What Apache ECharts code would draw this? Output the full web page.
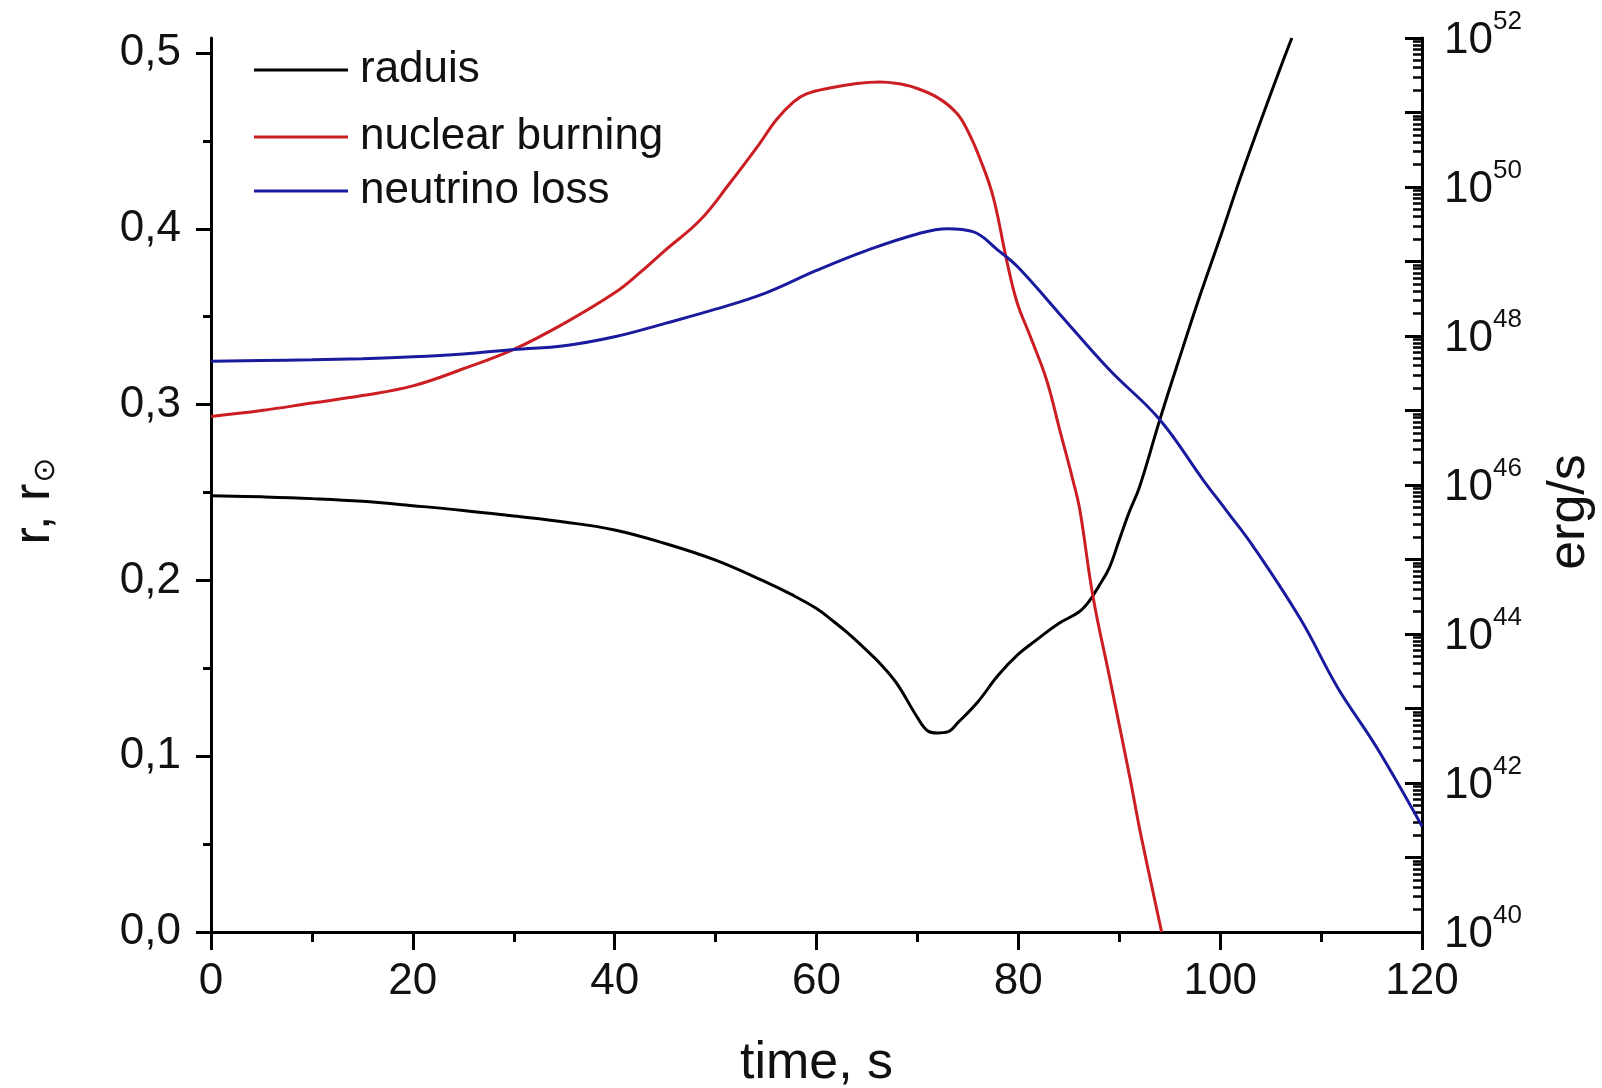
<!DOCTYPE html>
<html>
<head>
<meta charset="utf-8">
<script src="https://cdn.jsdelivr.net/npm/echarts@6/dist/echarts.min.js"></script>
<style>
  html, body { margin: 0; padding: 0; background: #fff; }
  #chart { width: 1602px; height: 1088px; }
</style>
</head>
<body>
<div id="chart"></div>
<script>
// Stellar core radius, in solar radii (left axis)
const radiusTime = [0, 5, 10, 15, 20, 25, 30, 35, 40, 45, 50, 55, 57.5, 60, 61.5, 63, 65, 66.5, 68, 70, 71, 72, 73, 74, 76, 78, 80, 82, 84, 86, 87, 88, 89, 90, 91, 92, 94, 96, 98, 100, 102, 104, 106, 107.1];
const radiusValue = [0.2482, 0.2475, 0.2465, 0.2450, 0.2425, 0.2398, 0.2366, 0.2332, 0.2287, 0.2210, 0.2115, 0.1990, 0.1920, 0.1840, 0.1775, 0.1705, 0.1600, 0.1515, 0.1410, 0.1220, 0.1145, 0.1132, 0.1138, 0.1190, 0.1310, 0.1460, 0.1580, 0.1670, 0.1755, 0.1820, 0.1880, 0.1970, 0.2070, 0.2230, 0.2390, 0.2530, 0.2910, 0.3270, 0.3620, 0.3950, 0.4290, 0.4610, 0.4920, 0.5085];

// Nuclear burning rate, log10 of erg/s (right axis)
const burningTime = [0, 5, 10, 15, 20, 25, 30, 35, 40, 42.5, 45, 48.5, 51.4, 54.4, 56, 57.7, 59, 61.3, 64, 66.3, 68, 69.6, 72, 73.9, 75, 76.2, 77.5, 78.9, 79.9, 81.2, 82.8, 84.1, 85.4, 86.1, 87.4, 89.1, 91.1, 92.1, 94.2];
const burningLog = [46.92, 47.00, 47.10, 47.20, 47.33, 47.56, 47.82, 48.17, 48.58, 48.85, 49.15, 49.56, 50.05, 50.59, 50.90, 51.14, 51.25, 51.33, 51.39, 51.41, 51.39, 51.34, 51.20, 50.99, 50.75, 50.38, 49.87, 48.98, 48.44, 47.99, 47.41, 46.74, 46.07, 45.66, 44.50, 43.38, 42.04, 41.33, 40.00];

// Neutrino losses, log10 of erg/s (right axis)
const neutrinoTime = [0, 5, 10, 15, 20, 25, 30, 35, 40, 45, 50, 55, 60, 65, 70, 73, 75.5, 78, 80, 84, 89, 94, 98.3, 100.6, 103.3, 108, 111.6, 115.5, 120];
const neutrinoLog = [47.66, 47.67, 47.68, 47.695, 47.72, 47.76, 47.82, 47.87, 47.99, 48.17, 48.36, 48.58, 48.88, 49.15, 49.37, 49.44, 49.40, 49.15, 48.92, 48.31, 47.55, 46.88, 46.07, 45.66, 45.17, 44.19, 43.29, 42.48, 41.42];

// Legend names, as printed
const seriesNames = ['raduis', 'nuclear burning', 'neutrino loss'];

// Tick labels
const xTicks = [0, 20, 40, 60, 80, 100, 120];
const leftTicks = [0, 0.1, 0.2, 0.3, 0.4, 0.5];
const leftLabels = ['0,0', '0,1', '0,2', '0,3', '0,4', '0,5'];
const leftMinorTicks = [0.05, 0.15, 0.25, 0.35, 0.45];
const rightExponents = [40, 42, 44, 46, 48, 50, 52];

// Log-axis sub-decade tick positions (2..9 within each decade)
const rightMinorTicks = [];
for (let n = 40; n < 52; n++) {
  for (let k = 2; k <= 9; k++) rightMinorTicks.push(n + Math.log10(k));
}

const pairs = (xs, ys) => xs.map((x, i) => [x, ys[i]]);

const FONT = '"Liberation Sans", Arial, sans-serif';
const INK = '#111111';
const AXIS = { color: '#000', width: 3 };
const TICK_FONT = 44;
const TITLE_FONT = 52;
const SMOOTH = 0.4;

const chart = echarts.init(document.getElementById('chart'), null, { renderer: 'canvas' });

const legendTops = [43, 110, 164];
const colors = ['#000000', '#cc1e22', '#1a1a9e'];

chart.setOption({
  animation: false,
  backgroundColor: '#ffffff',
  grid: { left: 211, right: 180, top: 38, bottom: 156, containLabel: false, outerBoundsMode: 'none' },
  legend: seriesNames.map((name, i) => ({
    data: [name],
    left: 249,
    top: legendTops[i],
    orient: 'horizontal',
    icon: 'rect',
    itemWidth: 94,
    itemHeight: 3,
    selectedMode: false,
    textStyle: { fontFamily: FONT, fontSize: 44, color: INK, padding: [0, 0, 0, 7] }
  })),
  xAxis: {
    type: 'value',
    min: 0, max: 120, interval: 20,
    name: 'time, s',
    nameLocation: 'middle',
    nameGap: 106,
    nameTextStyle: { fontFamily: FONT, fontSize: TITLE_FONT, color: INK },
    axisLine: { show: true, onZero: false, lineStyle: AXIS },
    axisTick: { show: true, length: 18, lineStyle: AXIS },
    minorTick: { show: true, splitNumber: 2, length: 10, lineStyle: AXIS },
    axisLabel: {
      margin: 28, fontFamily: FONT, fontSize: TICK_FONT, color: INK,
      formatter: v => (xTicks.includes(v) ? String(v) : '')
    },
    splitLine: { show: false },
    minorSplitLine: { show: false }
  },
  yAxis: [
    {
      type: 'value', position: 'left',
      min: 0, max: 0.5085,
      name: '{a|r, r}{sub|⊙}',
      nameLocation: 'middle',
      nameRotate: 90,
      nameGap: 150,
      nameTextStyle: {
        color: INK,
        padding: [0, 32, 0, 0],
        rich: {
          a: { fontFamily: FONT, fontSize: TITLE_FONT, lineHeight: 52, color: INK, verticalAlign: 'top' },
          sub: { fontFamily: '"DejaVu Sans", sans-serif', fontSize: 30, lineHeight: 30, color: INK, verticalAlign: 'bottom', padding: [46, 0, 0, 1] }
        }
      },
      axisLine: { show: true, onZero: false, lineStyle: AXIS },
      axisTick: { show: true, length: 15, customValues: leftTicks, lineStyle: AXIS },
      axisLabel: {
        customValues: leftTicks,
        margin: 30, fontFamily: FONT, fontSize: TICK_FONT, color: INK,
        padding: [7, 0, 0, 0],
        formatter: v => leftLabels[Math.round(v * 10)]
      },
      splitLine: { show: false }
    },
    {
      type: 'value', position: 'right',
      min: 40, max: 52, interval: 1,
      name: 'erg/s',
      nameLocation: 'middle',
      nameRotate: 90,
      nameGap: 122,
      nameTextStyle: { fontFamily: FONT, fontSize: TITLE_FONT, color: INK, padding: [0, 54, 0, 0] },
      axisLine: { show: true, onZero: false, lineStyle: AXIS },
      axisTick: { show: true, inside: true, length: 17, lineStyle: AXIS },
      axisLabel: {
        margin: 22,
        padding: [6, 0, 0, 0],
        formatter: v => (rightExponents.includes(v) ? '{b|10}{s|' + v + '}' : ''),
        rich: {
          b: { fontFamily: FONT, fontSize: TICK_FONT, lineHeight: 44, color: INK, verticalAlign: 'bottom' },
          s: { fontFamily: FONT, fontSize: 26, lineHeight: 26, color: INK, verticalAlign: 'bottom', padding: [0, 0, 28, 0] }
        }
      },
      splitLine: { show: false }
    },
    {
      // short ticks between the labelled values on the left
      type: 'value', position: 'left',
      min: 0, max: 0.5085,
      axisLine: { show: false },
      axisTick: { show: true, length: 8, customValues: leftMinorTicks, lineStyle: AXIS },
      axisLabel: { show: false },
      splitLine: { show: false }
    },
    {
      // sub-decade ticks of the logarithmic scale
      type: 'value', position: 'right',
      min: 40, max: 52,
      axisLine: { show: false },
      axisTick: { show: true, inside: true, length: 9, customValues: rightMinorTicks, lineStyle: { color: '#000', width: 2.5 } },
      axisLabel: { show: false },
      splitLine: { show: false }
    }
  ],
  series: [
    {
      name: seriesNames[0], type: 'line', yAxisIndex: 0,
      data: pairs(radiusTime, radiusValue),
      symbol: 'none', showSymbol: false, smooth: SMOOTH,
      lineStyle: { color: colors[0], width: 3 }, itemStyle: { color: colors[0] }
    },
    {
      name: seriesNames[1], type: 'line', yAxisIndex: 1,
      data: pairs(burningTime, burningLog),
      symbol: 'none', showSymbol: false, smooth: SMOOTH,
      lineStyle: { color: colors[1], width: 3 }, itemStyle: { color: colors[1] }
    },
    {
      name: seriesNames[2], type: 'line', yAxisIndex: 1,
      data: pairs(neutrinoTime, neutrinoLog),
      symbol: 'none', showSymbol: false, smooth: SMOOTH,
      lineStyle: { color: colors[2], width: 3 }, itemStyle: { color: colors[2] }
    }
  ]
});
</script>
</body>
</html>
